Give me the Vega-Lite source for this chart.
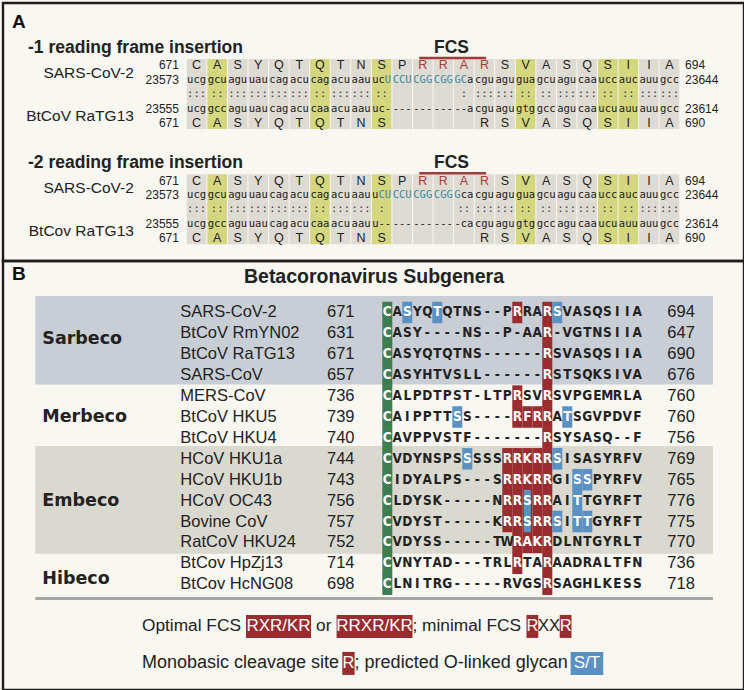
{
"$schema": "https://vega.github.io/schema/vega-lite/v6.json",
"background": "#f8f7f2",
"padding": {"left": 1, "top": 1, "right": 1, "bottom": 1},
"spacing": 0,
"bounds": "flush",
"config": {"view": {"stroke": "#1d1d1d", "strokeWidth": 2.4}},
"resolve": {"scale": {"x": "independent", "y": "independent"}},
"datasets": {
"aaA": [
{"track":"-1 SARS-CoV-2 aa","pos":671,"aa":"C"},{"track":"-1 SARS-CoV-2 aa","pos":672,"aa":"A"},{"track":"-1 SARS-CoV-2 aa","pos":673,"aa":"S"},{"track":"-1 SARS-CoV-2 aa","pos":674,"aa":"Y"},{"track":"-1 SARS-CoV-2 aa","pos":675,"aa":"Q"},{"track":"-1 SARS-CoV-2 aa","pos":676,"aa":"T"},{"track":"-1 SARS-CoV-2 aa","pos":677,"aa":"Q"},{"track":"-1 SARS-CoV-2 aa","pos":678,"aa":"T"},{"track":"-1 SARS-CoV-2 aa","pos":679,"aa":"N"},{"track":"-1 SARS-CoV-2 aa","pos":680,"aa":"S"},{"track":"-1 SARS-CoV-2 aa","pos":681,"aa":"P"},{"track":"-1 SARS-CoV-2 aa","pos":682,"aa":"R","cls":"red"},{"track":"-1 SARS-CoV-2 aa","pos":683,"aa":"R","cls":"red"},{"track":"-1 SARS-CoV-2 aa","pos":684,"aa":"A","cls":"red"},{"track":"-1 SARS-CoV-2 aa","pos":685,"aa":"R","cls":"red"},{"track":"-1 SARS-CoV-2 aa","pos":686,"aa":"S"},{"track":"-1 SARS-CoV-2 aa","pos":687,"aa":"V"},{"track":"-1 SARS-CoV-2 aa","pos":688,"aa":"A"},{"track":"-1 SARS-CoV-2 aa","pos":689,"aa":"S"},{"track":"-1 SARS-CoV-2 aa","pos":690,"aa":"Q"},{"track":"-1 SARS-CoV-2 aa","pos":691,"aa":"S"},{"track":"-1 SARS-CoV-2 aa","pos":692,"aa":"I"},{"track":"-1 SARS-CoV-2 aa","pos":693,"aa":"I"},{"track":"-1 SARS-CoV-2 aa","pos":694,"aa":"A"},
{"track":"-1 RaTG13 aa","pos":671,"aa":"C"},{"track":"-1 RaTG13 aa","pos":672,"aa":"A"},{"track":"-1 RaTG13 aa","pos":673,"aa":"S"},{"track":"-1 RaTG13 aa","pos":674,"aa":"Y"},{"track":"-1 RaTG13 aa","pos":675,"aa":"Q"},{"track":"-1 RaTG13 aa","pos":676,"aa":"T"},{"track":"-1 RaTG13 aa","pos":677,"aa":"Q"},{"track":"-1 RaTG13 aa","pos":678,"aa":"T"},{"track":"-1 RaTG13 aa","pos":679,"aa":"N"},{"track":"-1 RaTG13 aa","pos":680,"aa":"S"},{"track":"-1 RaTG13 aa","pos":685,"aa":"R"},{"track":"-1 RaTG13 aa","pos":686,"aa":"S"},{"track":"-1 RaTG13 aa","pos":687,"aa":"V"},{"track":"-1 RaTG13 aa","pos":688,"aa":"A"},{"track":"-1 RaTG13 aa","pos":689,"aa":"S"},{"track":"-1 RaTG13 aa","pos":690,"aa":"Q"},{"track":"-1 RaTG13 aa","pos":691,"aa":"S"},{"track":"-1 RaTG13 aa","pos":692,"aa":"I"},{"track":"-1 RaTG13 aa","pos":693,"aa":"I"},{"track":"-1 RaTG13 aa","pos":694,"aa":"A"},
{"track":"-2 SARS-CoV-2 aa","pos":671,"aa":"C"},{"track":"-2 SARS-CoV-2 aa","pos":672,"aa":"A"},{"track":"-2 SARS-CoV-2 aa","pos":673,"aa":"S"},{"track":"-2 SARS-CoV-2 aa","pos":674,"aa":"Y"},{"track":"-2 SARS-CoV-2 aa","pos":675,"aa":"Q"},{"track":"-2 SARS-CoV-2 aa","pos":676,"aa":"T"},{"track":"-2 SARS-CoV-2 aa","pos":677,"aa":"Q"},{"track":"-2 SARS-CoV-2 aa","pos":678,"aa":"T"},{"track":"-2 SARS-CoV-2 aa","pos":679,"aa":"N"},{"track":"-2 SARS-CoV-2 aa","pos":680,"aa":"S"},{"track":"-2 SARS-CoV-2 aa","pos":681,"aa":"P"},{"track":"-2 SARS-CoV-2 aa","pos":682,"aa":"R","cls":"red"},{"track":"-2 SARS-CoV-2 aa","pos":683,"aa":"R","cls":"red"},{"track":"-2 SARS-CoV-2 aa","pos":684,"aa":"A","cls":"red"},{"track":"-2 SARS-CoV-2 aa","pos":685,"aa":"R","cls":"red"},{"track":"-2 SARS-CoV-2 aa","pos":686,"aa":"S"},{"track":"-2 SARS-CoV-2 aa","pos":687,"aa":"V"},{"track":"-2 SARS-CoV-2 aa","pos":688,"aa":"A"},{"track":"-2 SARS-CoV-2 aa","pos":689,"aa":"S"},{"track":"-2 SARS-CoV-2 aa","pos":690,"aa":"Q"},{"track":"-2 SARS-CoV-2 aa","pos":691,"aa":"S"},{"track":"-2 SARS-CoV-2 aa","pos":692,"aa":"I"},{"track":"-2 SARS-CoV-2 aa","pos":693,"aa":"I"},{"track":"-2 SARS-CoV-2 aa","pos":694,"aa":"A"},
{"track":"-2 RaTG13 aa","pos":671,"aa":"C"},{"track":"-2 RaTG13 aa","pos":672,"aa":"A"},{"track":"-2 RaTG13 aa","pos":673,"aa":"S"},{"track":"-2 RaTG13 aa","pos":674,"aa":"Y"},{"track":"-2 RaTG13 aa","pos":675,"aa":"Q"},{"track":"-2 RaTG13 aa","pos":676,"aa":"T"},{"track":"-2 RaTG13 aa","pos":677,"aa":"Q"},{"track":"-2 RaTG13 aa","pos":678,"aa":"T"},{"track":"-2 RaTG13 aa","pos":679,"aa":"N"},{"track":"-2 RaTG13 aa","pos":680,"aa":"S"},{"track":"-2 RaTG13 aa","pos":685,"aa":"R"},{"track":"-2 RaTG13 aa","pos":686,"aa":"S"},{"track":"-2 RaTG13 aa","pos":687,"aa":"V"},{"track":"-2 RaTG13 aa","pos":688,"aa":"A"},{"track":"-2 RaTG13 aa","pos":689,"aa":"S"},{"track":"-2 RaTG13 aa","pos":690,"aa":"Q"},{"track":"-2 RaTG13 aa","pos":691,"aa":"S"},{"track":"-2 RaTG13 aa","pos":692,"aa":"I"},{"track":"-2 RaTG13 aa","pos":693,"aa":"I"},{"track":"-2 RaTG13 aa","pos":694,"aa":"A"}
],
"ntA": [
{"track":"-1 SARS-CoV-2 nt","pos":671,"nt":"ucg"},{"track":"-1 SARS-CoV-2 nt","pos":672,"nt":"gcu"},{"track":"-1 SARS-CoV-2 nt","pos":673,"nt":"agu"},{"track":"-1 SARS-CoV-2 nt","pos":674,"nt":"uau"},{"track":"-1 SARS-CoV-2 nt","pos":675,"nt":"cag"},{"track":"-1 SARS-CoV-2 nt","pos":676,"nt":"acu"},{"track":"-1 SARS-CoV-2 nt","pos":677,"nt":"cag"},{"track":"-1 SARS-CoV-2 nt","pos":678,"nt":"acu"},{"track":"-1 SARS-CoV-2 nt","pos":679,"nt":"aau"},
{"track":"-1 SARS-CoV-2 nt","pos":680,"nt":"uc","part":"left"},{"track":"-1 SARS-CoV-2 nt","pos":680,"nt":"U","part":"right","cls":"ins"},
{"track":"-1 SARS-CoV-2 nt","pos":681,"nt":"CCU","cls":"ins"},{"track":"-1 SARS-CoV-2 nt","pos":682,"nt":"CGG","cls":"ins"},{"track":"-1 SARS-CoV-2 nt","pos":683,"nt":"CGG","cls":"ins"},
{"track":"-1 SARS-CoV-2 nt","pos":684,"nt":"GC","part":"left","cls":"ins"},{"track":"-1 SARS-CoV-2 nt","pos":684,"nt":"a","part":"right"},
{"track":"-1 SARS-CoV-2 nt","pos":685,"nt":"cgu"},{"track":"-1 SARS-CoV-2 nt","pos":686,"nt":"agu"},{"track":"-1 SARS-CoV-2 nt","pos":687,"nt":"gua"},{"track":"-1 SARS-CoV-2 nt","pos":688,"nt":"gcu"},{"track":"-1 SARS-CoV-2 nt","pos":689,"nt":"agu"},{"track":"-1 SARS-CoV-2 nt","pos":690,"nt":"caa"},{"track":"-1 SARS-CoV-2 nt","pos":691,"nt":"ucc"},{"track":"-1 SARS-CoV-2 nt","pos":692,"nt":"auc"},{"track":"-1 SARS-CoV-2 nt","pos":693,"nt":"auu"},{"track":"-1 SARS-CoV-2 nt","pos":694,"nt":"gcc"},
{"track":"-1 RaTG13 nt","pos":671,"nt":"ucg"},{"track":"-1 RaTG13 nt","pos":672,"nt":"gcc"},{"track":"-1 RaTG13 nt","pos":673,"nt":"agu"},{"track":"-1 RaTG13 nt","pos":674,"nt":"uau"},{"track":"-1 RaTG13 nt","pos":675,"nt":"cag"},{"track":"-1 RaTG13 nt","pos":676,"nt":"acu"},{"track":"-1 RaTG13 nt","pos":677,"nt":"caa"},{"track":"-1 RaTG13 nt","pos":678,"nt":"acu"},{"track":"-1 RaTG13 nt","pos":679,"nt":"aau"},{"track":"-1 RaTG13 nt","pos":680,"nt":"uc-"},{"track":"-1 RaTG13 nt","pos":681,"nt":"---"},{"track":"-1 RaTG13 nt","pos":682,"nt":"---"},{"track":"-1 RaTG13 nt","pos":683,"nt":"---"},{"track":"-1 RaTG13 nt","pos":684,"nt":"--a"},{"track":"-1 RaTG13 nt","pos":685,"nt":"cgu"},{"track":"-1 RaTG13 nt","pos":686,"nt":"agu"},{"track":"-1 RaTG13 nt","pos":687,"nt":"gtg"},{"track":"-1 RaTG13 nt","pos":688,"nt":"gcc"},{"track":"-1 RaTG13 nt","pos":689,"nt":"agu"},{"track":"-1 RaTG13 nt","pos":690,"nt":"caa"},{"track":"-1 RaTG13 nt","pos":691,"nt":"ucu"},{"track":"-1 RaTG13 nt","pos":692,"nt":"auu"},{"track":"-1 RaTG13 nt","pos":693,"nt":"auu"},{"track":"-1 RaTG13 nt","pos":694,"nt":"gcc"},
{"track":"-2 SARS-CoV-2 nt","pos":671,"nt":"ucg"},{"track":"-2 SARS-CoV-2 nt","pos":672,"nt":"gcu"},{"track":"-2 SARS-CoV-2 nt","pos":673,"nt":"agu"},{"track":"-2 SARS-CoV-2 nt","pos":674,"nt":"uau"},{"track":"-2 SARS-CoV-2 nt","pos":675,"nt":"cag"},{"track":"-2 SARS-CoV-2 nt","pos":676,"nt":"acu"},{"track":"-2 SARS-CoV-2 nt","pos":677,"nt":"cag"},{"track":"-2 SARS-CoV-2 nt","pos":678,"nt":"acu"},{"track":"-2 SARS-CoV-2 nt","pos":679,"nt":"aau"},
{"track":"-2 SARS-CoV-2 nt","pos":680,"nt":"u","part":"left"},{"track":"-2 SARS-CoV-2 nt","pos":680,"nt":"CU","part":"right","cls":"ins"},
{"track":"-2 SARS-CoV-2 nt","pos":681,"nt":"CCU","cls":"ins"},{"track":"-2 SARS-CoV-2 nt","pos":682,"nt":"CGG","cls":"ins"},{"track":"-2 SARS-CoV-2 nt","pos":683,"nt":"CGG","cls":"ins"},
{"track":"-2 SARS-CoV-2 nt","pos":684,"nt":"G","part":"left","cls":"ins"},{"track":"-2 SARS-CoV-2 nt","pos":684,"nt":"ca","part":"right"},
{"track":"-2 SARS-CoV-2 nt","pos":685,"nt":"cgu"},{"track":"-2 SARS-CoV-2 nt","pos":686,"nt":"agu"},{"track":"-2 SARS-CoV-2 nt","pos":687,"nt":"gua"},{"track":"-2 SARS-CoV-2 nt","pos":688,"nt":"gcu"},{"track":"-2 SARS-CoV-2 nt","pos":689,"nt":"agu"},{"track":"-2 SARS-CoV-2 nt","pos":690,"nt":"caa"},{"track":"-2 SARS-CoV-2 nt","pos":691,"nt":"ucc"},{"track":"-2 SARS-CoV-2 nt","pos":692,"nt":"auc"},{"track":"-2 SARS-CoV-2 nt","pos":693,"nt":"auu"},{"track":"-2 SARS-CoV-2 nt","pos":694,"nt":"gcc"},
{"track":"-2 RaTG13 nt","pos":671,"nt":"ucg"},{"track":"-2 RaTG13 nt","pos":672,"nt":"gcc"},{"track":"-2 RaTG13 nt","pos":673,"nt":"agu"},{"track":"-2 RaTG13 nt","pos":674,"nt":"uau"},{"track":"-2 RaTG13 nt","pos":675,"nt":"cag"},{"track":"-2 RaTG13 nt","pos":676,"nt":"acu"},{"track":"-2 RaTG13 nt","pos":677,"nt":"caa"},{"track":"-2 RaTG13 nt","pos":678,"nt":"acu"},{"track":"-2 RaTG13 nt","pos":679,"nt":"aau"},{"track":"-2 RaTG13 nt","pos":680,"nt":"u--"},{"track":"-2 RaTG13 nt","pos":681,"nt":"---"},{"track":"-2 RaTG13 nt","pos":682,"nt":"---"},{"track":"-2 RaTG13 nt","pos":683,"nt":"---"},{"track":"-2 RaTG13 nt","pos":684,"nt":"-ca"},{"track":"-2 RaTG13 nt","pos":685,"nt":"cgu"},{"track":"-2 RaTG13 nt","pos":686,"nt":"agu"},{"track":"-2 RaTG13 nt","pos":687,"nt":"gtg"},{"track":"-2 RaTG13 nt","pos":688,"nt":"gcc"},{"track":"-2 RaTG13 nt","pos":689,"nt":"agu"},{"track":"-2 RaTG13 nt","pos":690,"nt":"caa"},{"track":"-2 RaTG13 nt","pos":691,"nt":"ucu"},{"track":"-2 RaTG13 nt","pos":692,"nt":"auu"},{"track":"-2 RaTG13 nt","pos":693,"nt":"auu"},{"track":"-2 RaTG13 nt","pos":694,"nt":"gcc"}
],
"matchA": [
{"track":"-1 match","pos":671,"text":":::","shade":"plain"},{"track":"-1 match","pos":672,"text":"::\u00a0","shade":"cons"},{"track":"-1 match","pos":673,"text":":::","shade":"plain"},{"track":"-1 match","pos":674,"text":":::","shade":"plain"},{"track":"-1 match","pos":675,"text":":::","shade":"plain"},{"track":"-1 match","pos":676,"text":":::","shade":"plain"},{"track":"-1 match","pos":677,"text":"::\u00a0","shade":"cons"},{"track":"-1 match","pos":678,"text":":::","shade":"plain"},{"track":"-1 match","pos":679,"text":":::","shade":"plain"},{"track":"-1 match","pos":680,"text":"::\u00a0","shade":"cons"},{"track":"-1 match","pos":681,"text":"","shade":"plain"},{"track":"-1 match","pos":682,"text":"","shade":"plain"},{"track":"-1 match","pos":683,"text":"","shade":"plain"},{"track":"-1 match","pos":684,"text":"\u00a0\u00a0:","shade":"plain"},{"track":"-1 match","pos":685,"text":":::","shade":"plain"},{"track":"-1 match","pos":686,"text":":::","shade":"plain"},{"track":"-1 match","pos":687,"text":"::\u00a0","shade":"cons"},{"track":"-1 match","pos":688,"text":"::\u00a0","shade":"plain"},{"track":"-1 match","pos":689,"text":":::","shade":"plain"},{"track":"-1 match","pos":690,"text":":::","shade":"plain"},{"track":"-1 match","pos":691,"text":"::\u00a0","shade":"cons"},{"track":"-1 match","pos":692,"text":"::\u00a0","shade":"cons"},{"track":"-1 match","pos":693,"text":":::","shade":"plain"},{"track":"-1 match","pos":694,"text":":::","shade":"plain"},
{"track":"-2 match","pos":671,"text":":::","shade":"plain"},{"track":"-2 match","pos":672,"text":"::\u00a0","shade":"cons"},{"track":"-2 match","pos":673,"text":":::","shade":"plain"},{"track":"-2 match","pos":674,"text":":::","shade":"plain"},{"track":"-2 match","pos":675,"text":":::","shade":"plain"},{"track":"-2 match","pos":676,"text":":::","shade":"plain"},{"track":"-2 match","pos":677,"text":"::\u00a0","shade":"cons"},{"track":"-2 match","pos":678,"text":":::","shade":"plain"},{"track":"-2 match","pos":679,"text":":::","shade":"plain"},{"track":"-2 match","pos":680,"text":":\u00a0\u00a0","shade":"cons"},{"track":"-2 match","pos":681,"text":"","shade":"plain"},{"track":"-2 match","pos":682,"text":"","shade":"plain"},{"track":"-2 match","pos":683,"text":"","shade":"plain"},{"track":"-2 match","pos":684,"text":"\u00a0::","shade":"plain"},{"track":"-2 match","pos":685,"text":":::","shade":"plain"},{"track":"-2 match","pos":686,"text":":::","shade":"plain"},{"track":"-2 match","pos":687,"text":"::\u00a0","shade":"cons"},{"track":"-2 match","pos":688,"text":"::\u00a0","shade":"plain"},{"track":"-2 match","pos":689,"text":":::","shade":"plain"},{"track":"-2 match","pos":690,"text":":::","shade":"plain"},{"track":"-2 match","pos":691,"text":"::\u00a0","shade":"cons"},{"track":"-2 match","pos":692,"text":"::\u00a0","shade":"cons"},{"track":"-2 match","pos":693,"text":":::","shade":"plain"},{"track":"-2 match","pos":694,"text":":::","shade":"plain"}
],
"numsA": [
{"track":"-1 SARS-CoV-2 aa","start":671,"end":694},{"track":"-1 SARS-CoV-2 nt","start":23573,"end":23644},{"track":"-1 RaTG13 nt","start":23555,"end":23614},{"track":"-1 RaTG13 aa","start":671,"end":690},
{"track":"-2 SARS-CoV-2 aa","start":671,"end":694},{"track":"-2 SARS-CoV-2 nt","start":23573,"end":23644},{"track":"-2 RaTG13 nt","start":23555,"end":23614},{"track":"-2 RaTG13 aa","start":671,"end":690}
],
"namesA": [
{"track":"-1 SARS-CoV-2","name":"SARS-CoV-2"},{"track":"-1 RaTG13","name":"BtCoV RaTG13"},{"track":"-2 SARS-CoV-2","name":"SARS-CoV-2"},{"track":"-2 RaTG13","name":"BtCov RaTG13"}
],
"titlesA": [
{"track":"-1 title","title":"-1 reading frame insertion"},{"track":"-2 title","title":"-2 reading frame insertion"}
],
"fcsA": [{"track":"-1 FCS"},{"track":"-2 FCS"}],
"panelA": [{"track":"-1 title","panel":"A"}],
"namesB": [
{"row":1,"group":"Sarbeco","name":"SARS-CoV-2","start":671,"end":694},
{"row":2,"group":"Sarbeco","name":"BtCoV RmYN02","start":631,"end":647},
{"row":3,"group":"Sarbeco","name":"BtCoV RaTG13","start":671,"end":690},
{"row":4,"group":"Sarbeco","name":"SARS-CoV","start":657,"end":676},
{"row":5,"group":"Merbeco","name":"MERS-CoV","start":736,"end":760},
{"row":6,"group":"Merbeco","name":"BtCoV HKU5","start":739,"end":760},
{"row":7,"group":"Merbeco","name":"BtCoV HKU4","start":740,"end":756},
{"row":8,"group":"Embeco","name":"HCoV HKU1a","start":744,"end":769},
{"row":9,"group":"Embeco","name":"HCoV HKU1b","start":743,"end":765},
{"row":10,"group":"Embeco","name":"HCoV OC43","start":756,"end":776},
{"row":11,"group":"Embeco","name":"Bovine CoV","start":757,"end":775},
{"row":12,"group":"Embeco","name":"RatCoV HKU24","start":752,"end":770},
{"row":13,"group":"Hibeco","name":"BtCov HpZj13","start":714,"end":736},
{"row":14,"group":"Hibeco","name":"BtCov HcNG08","start":698,"end":718}
],
"seqB": [
{"row":1,"col":1,"aa":"C","hl":"g"},{"row":1,"col":2,"aa":"A"},{"row":1,"col":3,"aa":"S","hl":"b"},{"row":1,"col":4,"aa":"Y"},{"row":1,"col":5,"aa":"Q"},{"row":1,"col":6,"aa":"T","hl":"b"},{"row":1,"col":7,"aa":"Q"},{"row":1,"col":8,"aa":"T"},{"row":1,"col":9,"aa":"N"},{"row":1,"col":10,"aa":"S"},{"row":1,"col":11,"aa":"-"},{"row":1,"col":12,"aa":"-"},{"row":1,"col":13,"aa":"P"},{"row":1,"col":14,"aa":"R","hl":"r"},{"row":1,"col":15,"aa":"R"},{"row":1,"col":16,"aa":"A"},{"row":1,"col":17,"aa":"R","hl":"r"},{"row":1,"col":18,"aa":"S","hl":"b"},{"row":1,"col":19,"aa":"V"},{"row":1,"col":20,"aa":"A"},{"row":1,"col":21,"aa":"S"},{"row":1,"col":22,"aa":"Q"},{"row":1,"col":23,"aa":"S"},{"row":1,"col":24,"aa":"I"},{"row":1,"col":25,"aa":"I"},{"row":1,"col":26,"aa":"A"},
{"row":2,"col":1,"aa":"C","hl":"g"},{"row":2,"col":2,"aa":"A"},{"row":2,"col":3,"aa":"S"},{"row":2,"col":4,"aa":"Y"},{"row":2,"col":5,"aa":"-"},{"row":2,"col":6,"aa":"-"},{"row":2,"col":7,"aa":"-"},{"row":2,"col":8,"aa":"-"},{"row":2,"col":9,"aa":"N"},{"row":2,"col":10,"aa":"S"},{"row":2,"col":11,"aa":"-"},{"row":2,"col":12,"aa":"-"},{"row":2,"col":13,"aa":"P"},{"row":2,"col":14,"aa":"-"},{"row":2,"col":15,"aa":"A"},{"row":2,"col":16,"aa":"A"},{"row":2,"col":17,"aa":"R","hl":"r"},{"row":2,"col":18,"aa":"-"},{"row":2,"col":19,"aa":"V"},{"row":2,"col":20,"aa":"G"},{"row":2,"col":21,"aa":"T"},{"row":2,"col":22,"aa":"N"},{"row":2,"col":23,"aa":"S"},{"row":2,"col":24,"aa":"I"},{"row":2,"col":25,"aa":"I"},{"row":2,"col":26,"aa":"A"},
{"row":3,"col":1,"aa":"C","hl":"g"},{"row":3,"col":2,"aa":"A"},{"row":3,"col":3,"aa":"S"},{"row":3,"col":4,"aa":"Y"},{"row":3,"col":5,"aa":"Q"},{"row":3,"col":6,"aa":"T"},{"row":3,"col":7,"aa":"Q"},{"row":3,"col":8,"aa":"T"},{"row":3,"col":9,"aa":"N"},{"row":3,"col":10,"aa":"S"},{"row":3,"col":11,"aa":"-"},{"row":3,"col":12,"aa":"-"},{"row":3,"col":13,"aa":"-"},{"row":3,"col":14,"aa":"-"},{"row":3,"col":15,"aa":"-"},{"row":3,"col":16,"aa":"-"},{"row":3,"col":17,"aa":"R","hl":"r"},{"row":3,"col":18,"aa":"S"},{"row":3,"col":19,"aa":"V"},{"row":3,"col":20,"aa":"A"},{"row":3,"col":21,"aa":"S"},{"row":3,"col":22,"aa":"Q"},{"row":3,"col":23,"aa":"S"},{"row":3,"col":24,"aa":"I"},{"row":3,"col":25,"aa":"I"},{"row":3,"col":26,"aa":"A"},
{"row":4,"col":1,"aa":"C","hl":"g"},{"row":4,"col":2,"aa":"A"},{"row":4,"col":3,"aa":"S"},{"row":4,"col":4,"aa":"Y"},{"row":4,"col":5,"aa":"H"},{"row":4,"col":6,"aa":"T"},{"row":4,"col":7,"aa":"V"},{"row":4,"col":8,"aa":"S"},{"row":4,"col":9,"aa":"L"},{"row":4,"col":10,"aa":"L"},{"row":4,"col":11,"aa":"-"},{"row":4,"col":12,"aa":"-"},{"row":4,"col":13,"aa":"-"},{"row":4,"col":14,"aa":"-"},{"row":4,"col":15,"aa":"-"},{"row":4,"col":16,"aa":"-"},{"row":4,"col":17,"aa":"R","hl":"r"},{"row":4,"col":18,"aa":"S"},{"row":4,"col":19,"aa":"T"},{"row":4,"col":20,"aa":"S"},{"row":4,"col":21,"aa":"Q"},{"row":4,"col":22,"aa":"K"},{"row":4,"col":23,"aa":"S"},{"row":4,"col":24,"aa":"I"},{"row":4,"col":25,"aa":"V"},{"row":4,"col":26,"aa":"A"},
{"row":5,"col":1,"aa":"C","hl":"g"},{"row":5,"col":2,"aa":"A"},{"row":5,"col":3,"aa":"L"},{"row":5,"col":4,"aa":"P"},{"row":5,"col":5,"aa":"D"},{"row":5,"col":6,"aa":"T"},{"row":5,"col":7,"aa":"P"},{"row":5,"col":8,"aa":"S"},{"row":5,"col":9,"aa":"T"},{"row":5,"col":10,"aa":"-"},{"row":5,"col":11,"aa":"L"},{"row":5,"col":12,"aa":"T"},{"row":5,"col":13,"aa":"P"},{"row":5,"col":14,"aa":"R","hl":"r"},{"row":5,"col":15,"aa":"S"},{"row":5,"col":16,"aa":"V"},{"row":5,"col":17,"aa":"R","hl":"r"},{"row":5,"col":18,"aa":"S"},{"row":5,"col":19,"aa":"V"},{"row":5,"col":20,"aa":"P"},{"row":5,"col":21,"aa":"G"},{"row":5,"col":22,"aa":"E"},{"row":5,"col":23,"aa":"M"},{"row":5,"col":24,"aa":"R"},{"row":5,"col":25,"aa":"L"},{"row":5,"col":26,"aa":"A"},
{"row":6,"col":1,"aa":"C","hl":"g"},{"row":6,"col":2,"aa":"A"},{"row":6,"col":3,"aa":"I"},{"row":6,"col":4,"aa":"P"},{"row":6,"col":5,"aa":"P"},{"row":6,"col":6,"aa":"T"},{"row":6,"col":7,"aa":"T"},{"row":6,"col":8,"aa":"S","hl":"b"},{"row":6,"col":9,"aa":"S"},{"row":6,"col":10,"aa":"-"},{"row":6,"col":11,"aa":"-"},{"row":6,"col":12,"aa":"-"},{"row":6,"col":13,"aa":"-"},{"row":6,"col":14,"aa":"R","hl":"r"},{"row":6,"col":15,"aa":"F","hl":"r"},{"row":6,"col":16,"aa":"R","hl":"r"},{"row":6,"col":17,"aa":"R","hl":"r"},{"row":6,"col":18,"aa":"A"},{"row":6,"col":19,"aa":"T","hl":"b"},{"row":6,"col":20,"aa":"S"},{"row":6,"col":21,"aa":"G"},{"row":6,"col":22,"aa":"V"},{"row":6,"col":23,"aa":"P"},{"row":6,"col":24,"aa":"D"},{"row":6,"col":25,"aa":"V"},{"row":6,"col":26,"aa":"F"},
{"row":7,"col":1,"aa":"C","hl":"g"},{"row":7,"col":2,"aa":"A"},{"row":7,"col":3,"aa":"V"},{"row":7,"col":4,"aa":"P"},{"row":7,"col":5,"aa":"P"},{"row":7,"col":6,"aa":"V"},{"row":7,"col":7,"aa":"S"},{"row":7,"col":8,"aa":"T"},{"row":7,"col":9,"aa":"F"},{"row":7,"col":10,"aa":"-"},{"row":7,"col":11,"aa":"-"},{"row":7,"col":12,"aa":"-"},{"row":7,"col":13,"aa":"-"},{"row":7,"col":14,"aa":"-"},{"row":7,"col":15,"aa":"-"},{"row":7,"col":16,"aa":"-"},{"row":7,"col":17,"aa":"R","hl":"r"},{"row":7,"col":18,"aa":"S"},{"row":7,"col":19,"aa":"Y"},{"row":7,"col":20,"aa":"S"},{"row":7,"col":21,"aa":"A"},{"row":7,"col":22,"aa":"S"},{"row":7,"col":23,"aa":"Q"},{"row":7,"col":24,"aa":"-"},{"row":7,"col":25,"aa":"-"},{"row":7,"col":26,"aa":"F"},
{"row":8,"col":1,"aa":"C","hl":"g"},{"row":8,"col":2,"aa":"V"},{"row":8,"col":3,"aa":"D"},{"row":8,"col":4,"aa":"Y"},{"row":8,"col":5,"aa":"N"},{"row":8,"col":6,"aa":"S"},{"row":8,"col":7,"aa":"P"},{"row":8,"col":8,"aa":"S"},{"row":8,"col":9,"aa":"S","hl":"b"},{"row":8,"col":10,"aa":"S"},{"row":8,"col":11,"aa":"S"},{"row":8,"col":12,"aa":"S"},{"row":8,"col":13,"aa":"R","hl":"r"},{"row":8,"col":14,"aa":"R","hl":"r"},{"row":8,"col":15,"aa":"K","hl":"r"},{"row":8,"col":16,"aa":"R","hl":"r"},{"row":8,"col":17,"aa":"R","hl":"r"},{"row":8,"col":18,"aa":"S","hl":"b"},{"row":8,"col":19,"aa":"I"},{"row":8,"col":20,"aa":"S"},{"row":8,"col":21,"aa":"A"},{"row":8,"col":22,"aa":"S"},{"row":8,"col":23,"aa":"Y"},{"row":8,"col":24,"aa":"R"},{"row":8,"col":25,"aa":"F"},{"row":8,"col":26,"aa":"V"},
{"row":9,"col":1,"aa":"C","hl":"g"},{"row":9,"col":2,"aa":"I"},{"row":9,"col":3,"aa":"D"},{"row":9,"col":4,"aa":"Y"},{"row":9,"col":5,"aa":"A"},{"row":9,"col":6,"aa":"L"},{"row":9,"col":7,"aa":"P"},{"row":9,"col":8,"aa":"S"},{"row":9,"col":9,"aa":"-"},{"row":9,"col":10,"aa":"-"},{"row":9,"col":11,"aa":"-"},{"row":9,"col":12,"aa":"S"},{"row":9,"col":13,"aa":"R","hl":"r"},{"row":9,"col":14,"aa":"R","hl":"r"},{"row":9,"col":15,"aa":"K","hl":"r"},{"row":9,"col":16,"aa":"R","hl":"r"},{"row":9,"col":17,"aa":"R","hl":"r"},{"row":9,"col":18,"aa":"G"},{"row":9,"col":19,"aa":"I"},{"row":9,"col":20,"aa":"S","hl":"b"},{"row":9,"col":21,"aa":"S","hl":"b"},{"row":9,"col":22,"aa":"P"},{"row":9,"col":23,"aa":"Y"},{"row":9,"col":24,"aa":"R"},{"row":9,"col":25,"aa":"F"},{"row":9,"col":26,"aa":"V"},
{"row":10,"col":1,"aa":"C","hl":"g"},{"row":10,"col":2,"aa":"L"},{"row":10,"col":3,"aa":"D"},{"row":10,"col":4,"aa":"Y"},{"row":10,"col":5,"aa":"S"},{"row":10,"col":6,"aa":"K"},{"row":10,"col":7,"aa":"-"},{"row":10,"col":8,"aa":"-"},{"row":10,"col":9,"aa":"-"},{"row":10,"col":10,"aa":"-"},{"row":10,"col":11,"aa":"-"},{"row":10,"col":12,"aa":"N"},{"row":10,"col":13,"aa":"R","hl":"r"},{"row":10,"col":14,"aa":"R","hl":"r"},{"row":10,"col":15,"aa":"S","hl":"rb"},{"row":10,"col":16,"aa":"R","hl":"r"},{"row":10,"col":17,"aa":"R","hl":"r"},{"row":10,"col":18,"aa":"A"},{"row":10,"col":19,"aa":"I"},{"row":10,"col":20,"aa":"T","hl":"b"},{"row":10,"col":21,"aa":"T"},{"row":10,"col":22,"aa":"G"},{"row":10,"col":23,"aa":"Y"},{"row":10,"col":24,"aa":"R"},{"row":10,"col":25,"aa":"F"},{"row":10,"col":26,"aa":"T"},
{"row":11,"col":1,"aa":"C","hl":"g"},{"row":11,"col":2,"aa":"V"},{"row":11,"col":3,"aa":"D"},{"row":11,"col":4,"aa":"Y"},{"row":11,"col":5,"aa":"S"},{"row":11,"col":6,"aa":"T"},{"row":11,"col":7,"aa":"-"},{"row":11,"col":8,"aa":"-"},{"row":11,"col":9,"aa":"-"},{"row":11,"col":10,"aa":"-"},{"row":11,"col":11,"aa":"-"},{"row":11,"col":12,"aa":"K"},{"row":11,"col":13,"aa":"R","hl":"r"},{"row":11,"col":14,"aa":"R","hl":"r"},{"row":11,"col":15,"aa":"S","hl":"rb"},{"row":11,"col":16,"aa":"R","hl":"r"},{"row":11,"col":17,"aa":"R","hl":"r"},{"row":11,"col":18,"aa":"S","hl":"b"},{"row":11,"col":19,"aa":"I"},{"row":11,"col":20,"aa":"T","hl":"b"},{"row":11,"col":21,"aa":"T","hl":"b"},{"row":11,"col":22,"aa":"G"},{"row":11,"col":23,"aa":"Y"},{"row":11,"col":24,"aa":"R"},{"row":11,"col":25,"aa":"F"},{"row":11,"col":26,"aa":"T"},
{"row":12,"col":1,"aa":"C","hl":"g"},{"row":12,"col":2,"aa":"V"},{"row":12,"col":3,"aa":"D"},{"row":12,"col":4,"aa":"Y"},{"row":12,"col":5,"aa":"S"},{"row":12,"col":6,"aa":"S"},{"row":12,"col":7,"aa":"-"},{"row":12,"col":8,"aa":"-"},{"row":12,"col":9,"aa":"-"},{"row":12,"col":10,"aa":"-"},{"row":12,"col":11,"aa":"-"},{"row":12,"col":12,"aa":"T"},{"row":12,"col":13,"aa":"W"},{"row":12,"col":14,"aa":"R","hl":"r"},{"row":12,"col":15,"aa":"A","hl":"r"},{"row":12,"col":16,"aa":"K","hl":"r"},{"row":12,"col":17,"aa":"R","hl":"r"},{"row":12,"col":18,"aa":"D"},{"row":12,"col":19,"aa":"L"},{"row":12,"col":20,"aa":"N"},{"row":12,"col":21,"aa":"T"},{"row":12,"col":22,"aa":"G"},{"row":12,"col":23,"aa":"Y"},{"row":12,"col":24,"aa":"R"},{"row":12,"col":25,"aa":"L"},{"row":12,"col":26,"aa":"T"},
{"row":13,"col":1,"aa":"C","hl":"g"},{"row":13,"col":2,"aa":"V"},{"row":13,"col":3,"aa":"N"},{"row":13,"col":4,"aa":"Y"},{"row":13,"col":5,"aa":"T"},{"row":13,"col":6,"aa":"A"},{"row":13,"col":7,"aa":"D"},{"row":13,"col":8,"aa":"-"},{"row":13,"col":9,"aa":"-"},{"row":13,"col":10,"aa":"-"},{"row":13,"col":11,"aa":"T"},{"row":13,"col":12,"aa":"R"},{"row":13,"col":13,"aa":"L"},{"row":13,"col":14,"aa":"R","hl":"r"},{"row":13,"col":15,"aa":"T"},{"row":13,"col":16,"aa":"A"},{"row":13,"col":17,"aa":"R","hl":"r"},{"row":13,"col":18,"aa":"A"},{"row":13,"col":19,"aa":"A"},{"row":13,"col":20,"aa":"D"},{"row":13,"col":21,"aa":"R"},{"row":13,"col":22,"aa":"A"},{"row":13,"col":23,"aa":"L"},{"row":13,"col":24,"aa":"T"},{"row":13,"col":25,"aa":"F"},{"row":13,"col":26,"aa":"N"},
{"row":14,"col":1,"aa":"C","hl":"g"},{"row":14,"col":2,"aa":"L"},{"row":14,"col":3,"aa":"N"},{"row":14,"col":4,"aa":"I"},{"row":14,"col":5,"aa":"T"},{"row":14,"col":6,"aa":"R"},{"row":14,"col":7,"aa":"G"},{"row":14,"col":8,"aa":"-"},{"row":14,"col":9,"aa":"-"},{"row":14,"col":10,"aa":"-"},{"row":14,"col":11,"aa":"-"},{"row":14,"col":12,"aa":"-"},{"row":14,"col":13,"aa":"R"},{"row":14,"col":14,"aa":"V"},{"row":14,"col":15,"aa":"G"},{"row":14,"col":16,"aa":"S"},{"row":14,"col":17,"aa":"R","hl":"r"},{"row":14,"col":18,"aa":"S"},{"row":14,"col":19,"aa":"A"},{"row":14,"col":20,"aa":"G"},{"row":14,"col":21,"aa":"H"},{"row":14,"col":22,"aa":"L"},{"row":14,"col":23,"aa":"K"},{"row":14,"col":24,"aa":"E"},{"row":14,"col":25,"aa":"S"},{"row":14,"col":26,"aa":"S"}
]
},
"vconcat": [
{
"width": 741, "height": 258,
"encoding": {
"y": {"field": "track", "type": "nominal", "scale": {"type": "point", "padding": 0, "range": [47.9, 235.1], "domain": ["-1 title","-1 FCS","-1 SARS-CoV-2 aa","-1 SARS-CoV-2","-1 SARS-CoV-2 nt","-1 g1","-1 match","-1 g2","-1 RaTG13 nt","-1 RaTG13","-1 RaTG13 aa","g1","g2","g3","g4","g5","-2 title","-2 FCS","-2 SARS-CoV-2 aa","-2 SARS-CoV-2","-2 SARS-CoV-2 nt","-2 g1","-2 match","-2 g2","-2 RaTG13 nt","-2 RaTG13","-2 RaTG13 aa"]}, "axis": null}
},
"layer": [
{"data": {"name": "matchA"}, "mark": {"type": "tick", "orient": "vertical", "thickness": 19.6, "size": 70, "opacity": 1, "filled": true},
 "encoding": {"x": {"field": "pos", "type": "quantitative", "scale": {"domain": [661.584, 697.625], "nice": false, "zero": false}, "axis": null},
  "color": {"condition": {"test": "datum.shade === 'cons'", "value": "#d5d77f"}, "value": "#dedbd3"}}},
{"data": {"name": "matchA"}, "mark": {"type": "text", "font": "DejaVu Sans Mono, monospace", "fontSize": 10.5, "baseline": "middle", "color": "#3a3a3a"},
 "encoding": {"x": {"field": "pos", "type": "quantitative", "scale": {"domain": [661.584, 697.625], "nice": false, "zero": false}, "axis": null}, "text": {"field": "text"}}},
{"data": {"name": "aaA"}, "mark": {"type": "text", "font": "Liberation Sans, Arial, sans-serif", "fontSize": 12.5, "baseline": "middle"},
 "encoding": {"x": {"field": "pos", "type": "quantitative", "scale": {"domain": [661.584, 697.625], "nice": false, "zero": false}, "axis": null}, "text": {"field": "aa"}, "color": {"condition": {"test": "datum.cls === 'red'", "value": "#a83b3b"}, "value": "#222222"}}},
{"data": {"name": "ntA"}, "transform": [{"filter": "!datum.part"}], "mark": {"type": "text", "font": "DejaVu Sans Mono, monospace", "fontSize": 10.5, "baseline": "middle"},
 "encoding": {"x": {"field": "pos", "type": "quantitative", "scale": {"domain": [661.584, 697.625], "nice": false, "zero": false}, "axis": null}, "text": {"field": "nt"}, "color": {"condition": {"test": "datum.cls === 'ins'", "value": "#3b8aa1"}, "value": "#222222"}}},
{"data": {"name": "ntA"}, "transform": [{"filter": "datum.part === 'left' && indexof(datum.track, '-1') === 0"}], "mark": {"type": "text", "align": "right", "dx": 3.2, "font": "DejaVu Sans Mono, monospace", "fontSize": 10.5, "baseline": "middle"},
 "encoding": {"x": {"field": "pos", "type": "quantitative", "scale": {"domain": [661.584, 697.625], "nice": false, "zero": false}, "axis": null}, "text": {"field": "nt"}, "color": {"condition": {"test": "datum.cls === 'ins'", "value": "#3b8aa1"}, "value": "#222222"}}},
{"data": {"name": "ntA"}, "transform": [{"filter": "datum.part === 'right' && indexof(datum.track, '-1') === 0"}], "mark": {"type": "text", "align": "left", "dx": 3.2, "font": "DejaVu Sans Mono, monospace", "fontSize": 10.5, "baseline": "middle"},
 "encoding": {"x": {"field": "pos", "type": "quantitative", "scale": {"domain": [661.584, 697.625], "nice": false, "zero": false}, "axis": null}, "text": {"field": "nt"}, "color": {"condition": {"test": "datum.cls === 'ins'", "value": "#3b8aa1"}, "value": "#222222"}}},
{"data": {"name": "ntA"}, "transform": [{"filter": "datum.part === 'left' && indexof(datum.track, '-2') === 0"}], "mark": {"type": "text", "align": "right", "dx": -3.2, "font": "DejaVu Sans Mono, monospace", "fontSize": 10.5, "baseline": "middle"},
 "encoding": {"x": {"field": "pos", "type": "quantitative", "scale": {"domain": [661.584, 697.625], "nice": false, "zero": false}, "axis": null}, "text": {"field": "nt"}, "color": {"condition": {"test": "datum.cls === 'ins'", "value": "#3b8aa1"}, "value": "#222222"}}},
{"data": {"name": "ntA"}, "transform": [{"filter": "datum.part === 'right' && indexof(datum.track, '-2') === 0"}], "mark": {"type": "text", "align": "left", "dx": -3.2, "font": "DejaVu Sans Mono, monospace", "fontSize": 10.5, "baseline": "middle"},
 "encoding": {"x": {"field": "pos", "type": "quantitative", "scale": {"domain": [661.584, 697.625], "nice": false, "zero": false}, "axis": null}, "text": {"field": "nt"}, "color": {"condition": {"test": "datum.cls === 'ins'", "value": "#3b8aa1"}, "value": "#222222"}}},
{"data": {"name": "numsA"}, "mark": {"type": "text", "align": "right", "font": "Liberation Sans, Arial, sans-serif", "fontSize": 12, "baseline": "middle", "color": "#222222"},
 "encoding": {"x": {"datum": 670.14, "type": "quantitative", "scale": {"domain": [661.584, 697.625], "nice": false, "zero": false}, "axis": null}, "text": {"field": "start", "type": "nominal"}}},
{"data": {"name": "numsA"}, "mark": {"type": "text", "align": "left", "font": "Liberation Sans, Arial, sans-serif", "fontSize": 12, "baseline": "middle", "color": "#222222"},
 "encoding": {"x": {"datum": 694.76, "type": "quantitative", "scale": {"domain": [661.584, 697.625], "nice": false, "zero": false}, "axis": null}, "text": {"field": "end", "type": "nominal"}}},
{"data": {"name": "namesA"}, "mark": {"type": "text", "align": "right", "font": "Liberation Sans, Arial, sans-serif", "fontSize": 15.5, "baseline": "middle", "color": "#222222"},
 "encoding": {"x": {"datum": 667.95, "type": "quantitative", "scale": {"domain": [661.584, 697.625], "nice": false, "zero": false}, "axis": null}, "text": {"field": "name"}}},
{"data": {"name": "titlesA"}, "mark": {"type": "text", "align": "left", "font": "Liberation Sans, Arial, sans-serif", "fontSize": 17.5, "fontWeight": "bold", "baseline": "middle", "dy": -3, "color": "#222222"},
 "encoding": {"x": {"datum": 662.8, "type": "quantitative", "scale": {"domain": [661.584, 697.625], "nice": false, "zero": false}, "axis": null}, "text": {"field": "title"}}},
{"data": {"name": "titlesA"}, "mark": {"type": "text", "align": "center", "font": "Liberation Sans, Arial, sans-serif", "fontSize": 17.5, "fontWeight": "bold", "baseline": "middle", "dy": -3, "color": "#222222", "text": "FCS"},
 "encoding": {"x": {"datum": 683.4, "type": "quantitative", "scale": {"domain": [661.584, 697.625], "nice": false, "zero": false}, "axis": null}}},
{"data": {"name": "fcsA"}, "mark": {"type": "rule", "color": "#a33b3b", "strokeWidth": 2.5},
 "encoding": {"x": {"datum": 681.83, "type": "quantitative", "scale": {"domain": [661.584, 697.625], "nice": false, "zero": false}, "axis": null}, "x2": {"datum": 685.08}}},
{"data": {"name": "panelA"}, "mark": {"type": "text", "align": "left", "font": "Liberation Sans, Arial, sans-serif", "fontSize": 19, "fontWeight": "bold", "baseline": "middle", "dy": -29, "color": "#111111"},
 "encoding": {"x": {"datum": 662.02, "type": "quantitative", "scale": {"domain": [661.584, 697.625], "nice": false, "zero": false}, "axis": null}, "text": {"field": "panel"}}}
]
},
{
"width": 741, "height": 429,
"layer": [
{"data": {"values": [{"group": "Sarbeco"}]}, "mark": {"type": "rect", "color": "#c9ced6"},
 "encoding": {"x": {"datum": -34.2, "type": "quantitative", "scale": {"domain": [-37.43, 36.67], "nice": false, "zero": false}, "axis": null}, "x2": {"datum": 33.57},
  "y": {"datum": 0.21, "type": "quantitative", "scale": {"domain": [-1.464, 19.062], "nice": false, "zero": false, "reverse": true}, "axis": null}, "y2": {"datum": 4.44}}},
{"data": {"values": [{"group": "Embeco"}]}, "mark": {"type": "rect", "color": "#d9d9d0"},
 "encoding": {"x": {"datum": -34.2, "type": "quantitative", "scale": {"domain": [-37.43, 36.67], "nice": false, "zero": false}, "axis": null}, "x2": {"datum": 33.57},
  "y": {"datum": 7.39, "type": "quantitative", "scale": {"domain": [-1.464, 19.062], "nice": false, "zero": false, "reverse": true}, "axis": null}, "y2": {"datum": 12.54}}},
{"data": {"values": [{}]}, "mark": {"type": "rule", "color": "#a6a6a6", "strokeWidth": 3},
 "encoding": {"x": {"datum": -34.2, "type": "quantitative", "scale": {"domain": [-37.43, 36.67], "nice": false, "zero": false}, "axis": null}, "x2": {"datum": 33.57},
  "y": {"datum": 14.68, "type": "quantitative", "scale": {"domain": [-1.464, 19.062], "nice": false, "zero": false, "reverse": true}, "axis": null}}},
{"data": {"name": "seqB"}, "transform": [{"filter": "datum.hl === 'g'"}], "mark": {"type": "tick", "orient": "vertical", "thickness": 10, "size": 21.5, "opacity": 1, "filled": true, "color": "#3e7d4f"},
 "encoding": {"x": {"field": "col", "type": "quantitative", "scale": {"domain": [-37.43, 36.67], "nice": false, "zero": false}, "axis": null},
  "y": {"field": "row", "type": "quantitative", "scale": {"domain": [-1.464, 19.062], "nice": false, "zero": false, "reverse": true}, "axis": null}}},
{"data": {"name": "seqB"}, "transform": [{"filter": "datum.hl === 'r' || datum.hl === 'rb'"}], "mark": {"type": "tick", "orient": "vertical", "thickness": 10, "size": 21.5, "opacity": 1, "filled": true, "color": "#9a2c30"},
 "encoding": {"x": {"field": "col", "type": "quantitative", "scale": {"domain": [-37.43, 36.67], "nice": false, "zero": false}, "axis": null},
  "y": {"field": "row", "type": "quantitative", "scale": {"domain": [-1.464, 19.062], "nice": false, "zero": false, "reverse": true}, "axis": null}}},
{"data": {"name": "seqB"}, "transform": [{"filter": "datum.hl === 'b'"}], "mark": {"type": "tick", "orient": "vertical", "thickness": 10, "size": 21.5, "opacity": 1, "filled": true, "color": "#5b90c2"},
 "encoding": {"x": {"field": "col", "type": "quantitative", "scale": {"domain": [-37.43, 36.67], "nice": false, "zero": false}, "axis": null},
  "y": {"field": "row", "type": "quantitative", "scale": {"domain": [-1.464, 19.062], "nice": false, "zero": false, "reverse": true}, "axis": null}}},
{"data": {"name": "seqB"}, "transform": [{"filter": "datum.hl === 'rb'"}], "mark": {"type": "tick", "orient": "vertical", "thickness": 7, "size": 21.5, "opacity": 1, "filled": true, "color": "#5b90c2"},
 "encoding": {"x": {"field": "col", "type": "quantitative", "scale": {"domain": [-37.43, 36.67], "nice": false, "zero": false}, "axis": null},
  "y": {"field": "row", "type": "quantitative", "scale": {"domain": [-1.464, 19.062], "nice": false, "zero": false, "reverse": true}, "axis": null}}},
{"data": {"name": "seqB"}, "mark": {"type": "text", "font": "DejaVu Sans Condensed, DejaVu Sans, sans-serif", "fontSize": 13.5, "fontWeight": "bold", "baseline": "middle"},
 "encoding": {"x": {"field": "col", "type": "quantitative", "scale": {"domain": [-37.43, 36.67], "nice": false, "zero": false}, "axis": null},
  "y": {"field": "row", "type": "quantitative", "scale": {"domain": [-1.464, 19.062], "nice": false, "zero": false, "reverse": true}, "axis": null},
  "text": {"field": "aa"}, "color": {"condition": {"test": "datum.hl", "value": "#ffffff"}, "value": "#222222"}}},
{"data": {"name": "namesB"}, "mark": {"type": "text", "align": "left", "font": "Liberation Sans, Arial, sans-serif", "fontSize": 16.5, "baseline": "middle", "color": "#222222"},
 "encoding": {"x": {"datum": -19.7, "type": "quantitative", "scale": {"domain": [-37.43, 36.67], "nice": false, "zero": false}, "axis": null},
  "y": {"field": "row", "type": "quantitative", "scale": {"domain": [-1.464, 19.062], "nice": false, "zero": false, "reverse": true}, "axis": null}, "text": {"field": "name"}}},
{"data": {"name": "namesB"}, "mark": {"type": "text", "align": "left", "font": "Liberation Sans, Arial, sans-serif", "fontSize": 16.5, "baseline": "middle", "color": "#222222"},
 "encoding": {"x": {"datum": -5.03, "type": "quantitative", "scale": {"domain": [-37.43, 36.67], "nice": false, "zero": false}, "axis": null},
  "y": {"field": "row", "type": "quantitative", "scale": {"domain": [-1.464, 19.062], "nice": false, "zero": false, "reverse": true}, "axis": null}, "text": {"field": "start", "type": "nominal"}}},
{"data": {"name": "namesB"}, "mark": {"type": "text", "align": "left", "font": "Liberation Sans, Arial, sans-serif", "fontSize": 16.5, "baseline": "middle", "color": "#222222"},
 "encoding": {"x": {"datum": 29.0, "type": "quantitative", "scale": {"domain": [-37.43, 36.67], "nice": false, "zero": false}, "axis": null},
  "y": {"field": "row", "type": "quantitative", "scale": {"domain": [-1.464, 19.062], "nice": false, "zero": false, "reverse": true}, "axis": null}, "text": {"field": "end", "type": "nominal"}}},
{"data": {"values": [{"group": "Sarbeco"}]}, "mark": {"type": "text", "align": "left", "font": "DejaVu Sans, sans-serif", "fontSize": 17.5, "fontWeight": "bold", "baseline": "middle", "color": "#222222"},
 "encoding": {"x": {"datum": -33.5, "type": "quantitative", "scale": {"domain": [-37.43, 36.67], "nice": false, "zero": false}, "axis": null},
  "y": {"datum": 2.25, "type": "quantitative", "scale": {"domain": [-1.464, 19.062], "nice": false, "zero": false, "reverse": true}, "axis": null}, "text": {"field": "group"}}},
{"data": {"values": [{"group": "Merbeco"}]}, "mark": {"type": "text", "align": "left", "font": "DejaVu Sans, sans-serif", "fontSize": 17.5, "fontWeight": "bold", "baseline": "middle", "color": "#222222"},
 "encoding": {"x": {"datum": -33.5, "type": "quantitative", "scale": {"domain": [-37.43, 36.67], "nice": false, "zero": false}, "axis": null},
  "y": {"datum": 6.0, "type": "quantitative", "scale": {"domain": [-1.464, 19.062], "nice": false, "zero": false, "reverse": true}, "axis": null}, "text": {"field": "group"}}},
{"data": {"values": [{"group": "Embeco"}]}, "mark": {"type": "text", "align": "left", "font": "DejaVu Sans, sans-serif", "fontSize": 17.5, "fontWeight": "bold", "baseline": "middle", "color": "#222222"},
 "encoding": {"x": {"datum": -33.5, "type": "quantitative", "scale": {"domain": [-37.43, 36.67], "nice": false, "zero": false}, "axis": null},
  "y": {"datum": 10.0, "type": "quantitative", "scale": {"domain": [-1.464, 19.062], "nice": false, "zero": false, "reverse": true}, "axis": null}, "text": {"field": "group"}}},
{"data": {"values": [{"group": "Hibeco"}]}, "mark": {"type": "text", "align": "left", "font": "DejaVu Sans, sans-serif", "fontSize": 17.5, "fontWeight": "bold", "baseline": "middle", "color": "#222222"},
 "encoding": {"x": {"datum": -33.5, "type": "quantitative", "scale": {"domain": [-37.43, 36.67], "nice": false, "zero": false}, "axis": null},
  "y": {"datum": 13.74, "type": "quantitative", "scale": {"domain": [-1.464, 19.062], "nice": false, "zero": false, "reverse": true}, "axis": null}, "text": {"field": "group"}}},
{"data": {"values": [{"label": "Betacoronavirus Subgenera"}]}, "mark": {"type": "text", "align": "center", "font": "Liberation Sans, Arial, sans-serif", "fontSize": 19.5, "fontWeight": "bold", "baseline": "middle", "color": "#222222"},
 "encoding": {"x": {"datum": -0.33, "type": "quantitative", "scale": {"domain": [-37.43, 36.67], "nice": false, "zero": false}, "axis": null},
  "y": {"datum": -0.72, "type": "quantitative", "scale": {"domain": [-1.464, 19.062], "nice": false, "zero": false, "reverse": true}, "axis": null}, "text": {"field": "label"}}},
{"data": {"values": [{"label": "B"}]}, "mark": {"type": "text", "align": "left", "font": "Liberation Sans, Arial, sans-serif", "fontSize": 19, "fontWeight": "bold", "baseline": "middle", "color": "#111111"},
 "encoding": {"x": {"datum": -36.53, "type": "quantitative", "scale": {"domain": [-37.43, 36.67], "nice": false, "zero": false}, "axis": null},
  "y": {"datum": -0.82, "type": "quantitative", "scale": {"domain": [-1.464, 19.062], "nice": false, "zero": false, "reverse": true}, "axis": null}, "text": {"field": "label"}}},
{"data": {"values": [{}]}, "mark": {"type": "rect", "color": "#9a2c30"}, "encoding": {"x": {"datum": -13.13, "type": "quantitative", "scale": {"domain": [-37.43, 36.67], "nice": false, "zero": false}, "axis": null}, "x2": {"datum": -6.63}, "y": {"datum": 15.47, "type": "quantitative", "scale": {"domain": [-1.464, 19.062], "nice": false, "zero": false, "reverse": true}, "axis": null}, "y2": {"datum": 16.57}}},
{"data": {"values": [{}]}, "mark": {"type": "rect", "color": "#9a2c30"}, "encoding": {"x": {"datum": -4.07, "type": "quantitative", "scale": {"domain": [-37.43, 36.67], "nice": false, "zero": false}, "axis": null}, "x2": {"datum": 3.52}, "y": {"datum": 15.47, "type": "quantitative", "scale": {"domain": [-1.464, 19.062], "nice": false, "zero": false, "reverse": true}, "axis": null}, "y2": {"datum": 16.57}}},
{"data": {"values": [{}]}, "mark": {"type": "rect", "color": "#9a2c30"}, "encoding": {"x": {"datum": 14.92, "type": "quantitative", "scale": {"domain": [-37.43, 36.67], "nice": false, "zero": false}, "axis": null}, "x2": {"datum": 16.1}, "y": {"datum": 15.47, "type": "quantitative", "scale": {"domain": [-1.464, 19.062], "nice": false, "zero": false, "reverse": true}, "axis": null}, "y2": {"datum": 16.57}}},
{"data": {"values": [{}]}, "mark": {"type": "rect", "color": "#9a2c30"}, "encoding": {"x": {"datum": 18.24, "type": "quantitative", "scale": {"domain": [-37.43, 36.67], "nice": false, "zero": false}, "axis": null}, "x2": {"datum": 19.42}, "y": {"datum": 15.47, "type": "quantitative", "scale": {"domain": [-1.464, 19.062], "nice": false, "zero": false, "reverse": true}, "axis": null}, "y2": {"datum": 16.57}}},
{"data": {"values": [{}]}, "mark": {"type": "rect", "color": "#9a2c30"}, "encoding": {"x": {"datum": -3.5, "type": "quantitative", "scale": {"domain": [-37.43, 36.67], "nice": false, "zero": false}, "axis": null}, "x2": {"datum": -2.27}, "y": {"datum": 17.24, "type": "quantitative", "scale": {"domain": [-1.464, 19.062], "nice": false, "zero": false, "reverse": true}, "axis": null}, "y2": {"datum": 18.34}}},
{"data": {"values": [{}]}, "mark": {"type": "rect", "color": "#5b90c2"}, "encoding": {"x": {"datum": 19.33, "type": "quantitative", "scale": {"domain": [-37.43, 36.67], "nice": false, "zero": false}, "axis": null}, "x2": {"datum": 22.6}, "y": {"datum": 17.24, "type": "quantitative", "scale": {"domain": [-1.464, 19.062], "nice": false, "zero": false, "reverse": true}, "axis": null}, "y2": {"datum": 18.34}}},
{"data": {"values": [{"label": "Optimal FCS"}]}, "mark": {"type": "text", "align": "left", "font": "Liberation Sans, Arial, sans-serif", "fontSize": 17.3, "baseline": "middle", "color": "#222222"}, "encoding": {"x": {"datum": -23.53, "type": "quantitative", "scale": {"domain": [-37.43, 36.67], "nice": false, "zero": false}, "axis": null}, "y": {"datum": 16.02, "type": "quantitative", "scale": {"domain": [-1.464, 19.062], "nice": false, "zero": false, "reverse": true}, "axis": null}, "text": {"field": "label"}}},
{"data": {"values": [{"label": "RXR/KR"}]}, "mark": {"type": "text", "align": "center", "font": "Liberation Sans, Arial, sans-serif", "fontSize": 17, "baseline": "middle", "color": "#ffffff"}, "encoding": {"x": {"datum": -9.88, "type": "quantitative", "scale": {"domain": [-37.43, 36.67], "nice": false, "zero": false}, "axis": null}, "y": {"datum": 16.02, "type": "quantitative", "scale": {"domain": [-1.464, 19.062], "nice": false, "zero": false, "reverse": true}, "axis": null}, "text": {"field": "label"}}},
{"data": {"values": [{"label": "or"}]}, "mark": {"type": "text", "align": "center", "font": "Liberation Sans, Arial, sans-serif", "fontSize": 17.3, "baseline": "middle", "color": "#222222"}, "encoding": {"x": {"datum": -5.35, "type": "quantitative", "scale": {"domain": [-37.43, 36.67], "nice": false, "zero": false}, "axis": null}, "y": {"datum": 16.02, "type": "quantitative", "scale": {"domain": [-1.464, 19.062], "nice": false, "zero": false, "reverse": true}, "axis": null}, "text": {"field": "label"}}},
{"data": {"values": [{"label": "RRXR/KR"}]}, "mark": {"type": "text", "align": "center", "font": "Liberation Sans, Arial, sans-serif", "fontSize": 17, "baseline": "middle", "color": "#ffffff"}, "encoding": {"x": {"datum": -0.28, "type": "quantitative", "scale": {"domain": [-37.43, 36.67], "nice": false, "zero": false}, "axis": null}, "y": {"datum": 16.02, "type": "quantitative", "scale": {"domain": [-1.464, 19.062], "nice": false, "zero": false, "reverse": true}, "axis": null}, "text": {"field": "label"}}},
{"data": {"values": [{"label": "; minimal FCS"}]}, "mark": {"type": "text", "align": "left", "font": "Liberation Sans, Arial, sans-serif", "fontSize": 17.3, "baseline": "middle", "color": "#222222"}, "encoding": {"x": {"datum": 3.52, "type": "quantitative", "scale": {"domain": [-37.43, 36.67], "nice": false, "zero": false}, "axis": null}, "y": {"datum": 16.02, "type": "quantitative", "scale": {"domain": [-1.464, 19.062], "nice": false, "zero": false, "reverse": true}, "axis": null}, "text": {"field": "label"}}},
{"data": {"values": [{"label": "R"}]}, "mark": {"type": "text", "align": "center", "font": "Liberation Sans, Arial, sans-serif", "fontSize": 16.5, "baseline": "middle", "color": "#ffffff"}, "encoding": {"x": {"datum": 15.51, "type": "quantitative", "scale": {"domain": [-37.43, 36.67], "nice": false, "zero": false}, "axis": null}, "y": {"datum": 16.02, "type": "quantitative", "scale": {"domain": [-1.464, 19.062], "nice": false, "zero": false, "reverse": true}, "axis": null}, "text": {"field": "label"}}},
{"data": {"values": [{"label": "XX"}]}, "mark": {"type": "text", "align": "center", "font": "Liberation Sans, Arial, sans-serif", "fontSize": 16.5, "baseline": "middle", "color": "#222222"}, "encoding": {"x": {"datum": 17.17, "type": "quantitative", "scale": {"domain": [-37.43, 36.67], "nice": false, "zero": false}, "axis": null}, "y": {"datum": 16.02, "type": "quantitative", "scale": {"domain": [-1.464, 19.062], "nice": false, "zero": false, "reverse": true}, "axis": null}, "text": {"field": "label"}}},
{"data": {"values": [{"label": "R"}]}, "mark": {"type": "text", "align": "center", "font": "Liberation Sans, Arial, sans-serif", "fontSize": 16.5, "baseline": "middle", "color": "#ffffff"}, "encoding": {"x": {"datum": 18.83, "type": "quantitative", "scale": {"domain": [-37.43, 36.67], "nice": false, "zero": false}, "axis": null}, "y": {"datum": 16.02, "type": "quantitative", "scale": {"domain": [-1.464, 19.062], "nice": false, "zero": false, "reverse": true}, "axis": null}, "text": {"field": "label"}}},
{"data": {"values": [{"label": "Monobasic cleavage site"}]}, "mark": {"type": "text", "align": "left", "font": "Liberation Sans, Arial, sans-serif", "fontSize": 18, "baseline": "middle", "color": "#222222"}, "encoding": {"x": {"datum": -23.53, "type": "quantitative", "scale": {"domain": [-37.43, 36.67], "nice": false, "zero": false}, "axis": null}, "y": {"datum": 17.79, "type": "quantitative", "scale": {"domain": [-1.464, 19.062], "nice": false, "zero": false, "reverse": true}, "axis": null}, "text": {"field": "label"}}},
{"data": {"values": [{"label": "R"}]}, "mark": {"type": "text", "align": "center", "font": "Liberation Sans, Arial, sans-serif", "fontSize": 16.5, "baseline": "middle", "color": "#ffffff"}, "encoding": {"x": {"datum": -2.885, "type": "quantitative", "scale": {"domain": [-37.43, 36.67], "nice": false, "zero": false}, "axis": null}, "y": {"datum": 17.79, "type": "quantitative", "scale": {"domain": [-1.464, 19.062], "nice": false, "zero": false, "reverse": true}, "axis": null}, "text": {"field": "label"}}},
{"data": {"values": [{"label": "; predicted O-linked glycan"}]}, "mark": {"type": "text", "align": "left", "font": "Liberation Sans, Arial, sans-serif", "fontSize": 18, "baseline": "middle", "color": "#222222"}, "encoding": {"x": {"datum": -2.27, "type": "quantitative", "scale": {"domain": [-37.43, 36.67], "nice": false, "zero": false}, "axis": null}, "y": {"datum": 17.79, "type": "quantitative", "scale": {"domain": [-1.464, 19.062], "nice": false, "zero": false, "reverse": true}, "axis": null}, "text": {"field": "label"}}},
{"data": {"values": [{"label": "S/T"}]}, "mark": {"type": "text", "align": "center", "font": "Liberation Sans, Arial, sans-serif", "fontSize": 17, "baseline": "middle", "color": "#ffffff"}, "encoding": {"x": {"datum": 20.965, "type": "quantitative", "scale": {"domain": [-37.43, 36.67], "nice": false, "zero": false}, "axis": null}, "y": {"datum": 17.79, "type": "quantitative", "scale": {"domain": [-1.464, 19.062], "nice": false, "zero": false, "reverse": true}, "axis": null}, "text": {"field": "label"}}}
]
}
]
}
